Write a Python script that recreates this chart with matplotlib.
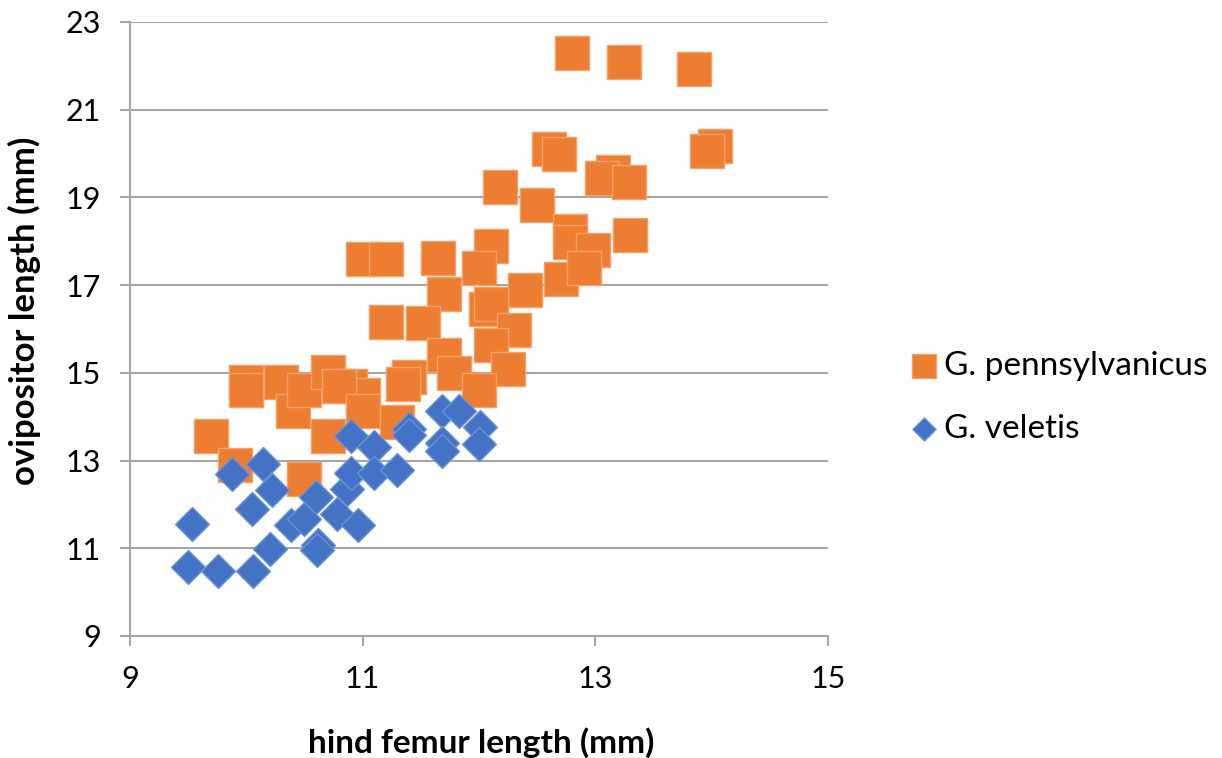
"""
Cricket ovipositor vs hind femur length, two Gryllus species
"""

import matplotlib
matplotlib.use('Agg')
import matplotlib.pyplot as plt

plt.rcParams['font.family'] = ['Lato', 'DejaVu Sans']

# G. pennsylvanicus
penn_femur = [12.80, 13.25, 13.85, 14.03, 13.96, 12.60, 12.69, 12.18, 13.15, 13.06,
              13.29, 12.50, 12.78, 12.78, 12.98, 13.30, 12.10, 12.00, 12.71, 12.90,
              12.40, 11.65, 11.00, 11.20, 11.70, 11.20, 11.52, 12.06, 12.10, 12.30,
              12.10, 11.70, 12.25, 11.79, 12.00, 11.40, 11.35, 10.00, 10.00, 10.30,
              10.40, 10.50, 10.70, 10.89, 11.00, 10.80, 9.70, 9.90, 10.50, 10.70,
              11.00, 11.30]
penn_ovi = [22.29, 22.09, 21.93, 20.17, 20.05, 20.10, 19.99, 19.24, 19.58, 19.44,
            19.35, 18.82, 18.23, 17.98, 17.79, 18.14, 17.89, 17.40, 17.13, 17.38,
            16.90, 17.61, 17.59, 17.59, 16.79, 16.17, 16.13, 16.45, 16.58, 15.98,
            15.63, 15.40, 15.08, 14.99, 14.60, 14.90, 14.75, 14.80, 14.60, 14.80,
            14.14, 14.60, 15.01, 14.71, 14.50, 14.69, 13.57, 12.89, 12.59, 13.57,
            14.14, 13.89]

# G. veletis
vel_femur = [9.53, 9.50, 9.76, 10.06, 10.20, 9.88, 10.14, 10.22, 10.05, 10.38,
             10.50, 10.60, 10.62, 10.61, 10.78, 10.96, 10.87, 10.90, 10.90, 11.10,
             11.10, 11.30, 11.40, 11.40, 11.68, 11.83, 12.01, 11.68, 11.68, 12.00]
vel_ovi = [11.56, 10.58, 10.47, 10.49, 10.99, 12.70, 12.92, 12.32, 11.90, 11.52,
           11.67, 12.18, 11.08, 10.95, 11.78, 11.54, 12.36, 12.72, 13.55, 13.30,
           12.72, 12.79, 13.72, 13.58, 14.14, 14.14, 13.76, 13.40, 13.22, 13.38]

labels = ['G. pennsylvanicus', 'G. veletis']
orange = '#ED7D31'
blue = '#4472C4'
grid_grey = '#A6A6A6'

fig = plt.figure(figsize=(12.22, 7.58), dpi=100)
ax = fig.add_axes([0.1064, 0.161, 0.571, 0.81])

ax.scatter(penn_femur, penn_ovi, marker='s', s=24.5**2, color=orange,
           edgecolors='#F3A06A', linewidths=1.0, label=labels[0], zorder=3)
ax.scatter(vel_femur, vel_ovi, marker='D', s=17.3**2, color=blue,
           edgecolors='#6A92D6', linewidths=1.0, label=labels[1], zorder=4)

ax.set_xlim(9, 15)
ax.set_ylim(9, 23)
ax.set_xticks([9, 11, 13, 15])
ax.set_yticks([9, 11, 13, 15, 17, 19, 21, 23])

ax.grid(axis='y', color=grid_grey, linewidth=1.5, zorder=0)
ax.set_axisbelow(True)
for side in ['top', 'right']:
    ax.spines[side].set_visible(False)
for side in ['left', 'bottom']:
    ax.spines[side].set_color(grid_grey)
    ax.spines[side].set_linewidth(1.5)
ax.tick_params(axis='both', colors=grid_grey, length=7, width=1.5,
               labelcolor='black', labelsize=22)
ax.tick_params(axis='x', pad=14)
ax.tick_params(axis='y', pad=14)

ax.set_xlabel('hind femur length (mm)', fontsize=24, fontweight='bold', va='center')
ax.set_ylabel('ovipositor length (mm)', fontsize=25, fontweight='bold', va='center')
ax.xaxis.set_label_coords(0.503, -0.173)
ax.yaxis.set_label_coords(-0.152, 0.53)

leg = fig.legend(loc='center left', bbox_to_anchor=(0.745, 0.476), frameon=False,
                 fontsize=24, handletextpad=0.2, labelspacing=1.0,
                 markerscale=0.68, handlelength=0.8, borderpad=0, borderaxespad=0)

fig.savefig('out.png', dpi=100)
